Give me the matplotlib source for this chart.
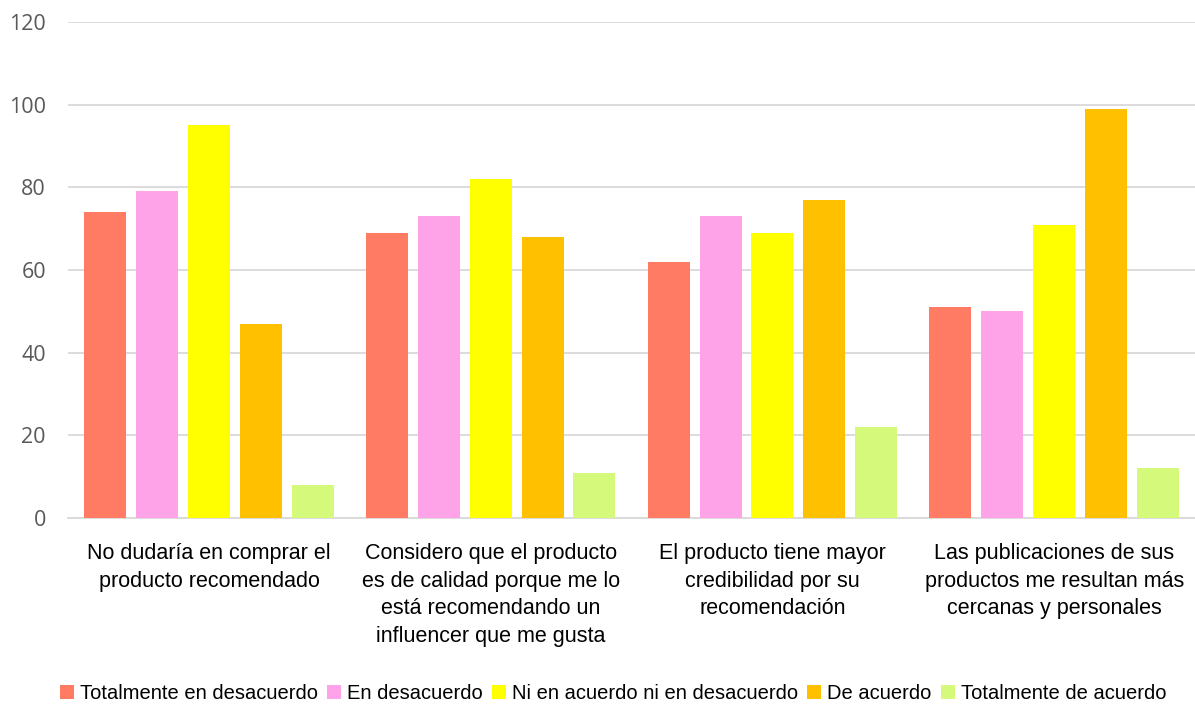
import matplotlib
matplotlib.use("Agg")
import matplotlib.pyplot as plt
import numpy as np

categories = [
    "No dudaría en comprar el\nproducto recomendado",
    "Considero que el producto\nes de calidad porque me lo\nestá recomendando un\ninfluencer que me gusta",
    "El producto tiene mayor\ncredibilidad por su\nrecomendación",
    "Las publicaciones de sus\nproductos me resultan más\ncercanas y personales",
]
series_names = ["Totalmente en desacuerdo", "En desacuerdo",
                "Ni en acuerdo ni en desacuerdo", "De acuerdo",
                "Totalmente de acuerdo"]
totalmente_desacuerdo = [74, 69, 62, 51]
en_desacuerdo = [79, 73, 73, 50]
ni_ni = [95, 82, 69, 71]
de_acuerdo = [47, 68, 77, 99]
totalmente_acuerdo = [8, 11, 22, 12]
yticks = [0, 20, 40, 60, 80, 100, 120]

series = [totalmente_desacuerdo, en_desacuerdo, ni_ni, de_acuerdo, totalmente_acuerdo]
colors = ["#FF7B63", "#FFA3E8", "#FFFF00", "#FFC000", "#D5F97A"]

label_font = "Liberation Sans"

fig = plt.figure(figsize=(11.95, 7.06), dpi=100)
ax = fig.add_axes([0.057, 0.2663, 0.943, 0.7025])

x = np.arange(len(categories))
step = 0.184
width = 0.149
for i, (vals, c, n) in enumerate(zip(series, colors, series_names)):
    ax.bar(x + (i - 2) * step, vals, width=width, color=c, label=n, zorder=3)

ax.set_xlim(-0.5, len(categories) - 0.5)
ax.set_ylim(0, 120)
ax.set_yticks(yticks)
ax.set_yticklabels([str(v) for v in yticks], fontsize=15.5, color="#595959", family="Open Sans")
ax.grid(axis="y", color="#D9D9D9", linewidth=1.3, zorder=0)
ax.tick_params(axis="y", length=0, pad=16)
ax.tick_params(axis="x", length=0, pad=18)
ax.set_xticks(x)
ax.set_xticklabels(categories, fontsize=15.5, family=label_font, color="#000000", linespacing=1.42)
for s in ["top", "right", "left"]:
    ax.spines[s].set_visible(False)
ax.spines["bottom"].set_color("#D9D9D9")
ax.spines["bottom"].set_linewidth(1.3)

leg = fig.legend(loc="lower center", bbox_to_anchor=(0.513, -0.022), ncol=5, frameon=False,
                 prop={"family": label_font, "size": 14.5}, handlelength=0.7, handleheight=0.7,
                 handletextpad=0.3, columnspacing=0.45)

fig.savefig("out.png", dpi=100)
